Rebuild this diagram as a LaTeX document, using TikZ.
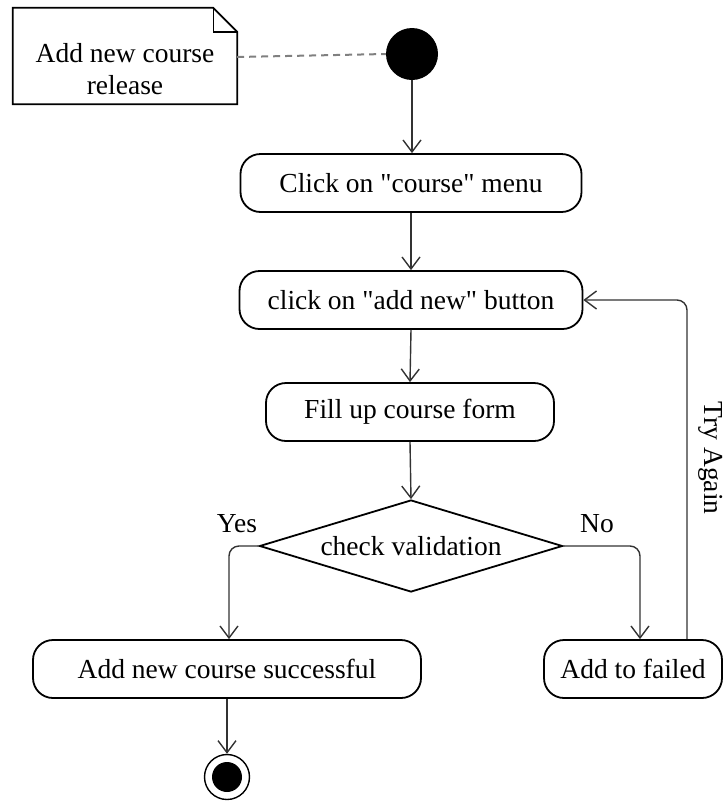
\documentclass[tikz,border=0pt]{standalone}
\usepackage{fontspec}
\setmainfont{Liberation Serif}
\usetikzlibrary{arrows.meta,shapes.geometric}
\begin{document}
\begin{tikzpicture}[x=1pt,y=-1pt,
  every node/.style={font=\fontsize{27.5}{32}\selectfont},
  act/.style={draw=black,line width=1.8pt,rectangle,rounded corners=20pt,minimum height=58pt,inner sep=0pt},
  conn/.style={draw=black!80,line width=1.4pt,-{Straight Barb[length=12pt,width=18pt,line width=1.4pt]}},
  lbl/.style={inner sep=0pt}
]
\useasboundingbox (0,0) rectangle (726,801);
% note
\node[lbl,minimum width=224pt,minimum height=96pt] (note) at (125,56) {};
\node[lbl,align=center] (notetext) at (125,69) {Add new course\\release};
\draw[line width=1.8pt,line join=miter] (note.south west) -- (note.north west) -- ([xshift=-24pt]note.north east) -- ([yshift=-24pt]note.north east) -- (note.south east) -- cycle;
\draw[line width=1.4pt] ([xshift=-24pt]note.north east) |- ([yshift=-24pt]note.north east);
% start
\node[circle,fill=black,minimum size=52pt,inner sep=0pt] (start) at (412,54) {};
\draw[black!50,line width=2pt,dash pattern=on 7pt off 5pt] ([yshift=-1pt]note.east) -- (start.west);
% activities
\node[act,minimum width=341pt] (n1) at (411,183) {Click on \textquotedbl course\textquotedbl{} menu};
\node[act,minimum width=343pt] (n2) at (411,300) {click on \textquotedbl add new\textquotedbl{} button};
\node[act,minimum width=288pt] (n3) at (410,412) {Fill up course form};
\node[diamond,draw=black,line width=1.8pt,minimum width=303pt,minimum height=92pt,inner sep=0pt,aspect=3.3] (dia) at (411,546) {check validation};
\node[act,minimum width=388pt] (n4) at (227,669) {Add new course successful};
\node[act,minimum width=178pt] (n5) at (633,669) {Add to failed};
% end
\node[circle,draw=black,line width=1.4pt,minimum size=45pt,inner sep=0pt] (end) at (227,777) {};
\node[circle,fill=black,minimum size=30pt,inner sep=0pt] (endin) at (end.center) {};
% connectors
\draw[conn] (start.south) -- (start.south |- n1.north);
\draw[conn] (n1.south) -- (n2.north);
\draw[conn] (n2.south) -- (n3.north);
\draw[conn] (n3.south) -- (dia.north);
\draw[conn,rounded corners=10pt] (dia.west) -| ([xshift=2pt]n4.north);
\draw[conn,rounded corners=10pt] (dia.east) -| ([xshift=7pt]n5.north);
\draw[conn,rounded corners=10pt] ([xshift=54pt]n5.north) |- (n2.east);
\draw[conn] (n4.south) -- (end.north);
% labels
\node[lbl] (yes) at (237,524) {Yes};
\node[lbl] (no) at (597,524) {No};
\node[lbl,rotate=-90] (try) at (711,458) {Try Again};
\end{tikzpicture}
\end{document}
